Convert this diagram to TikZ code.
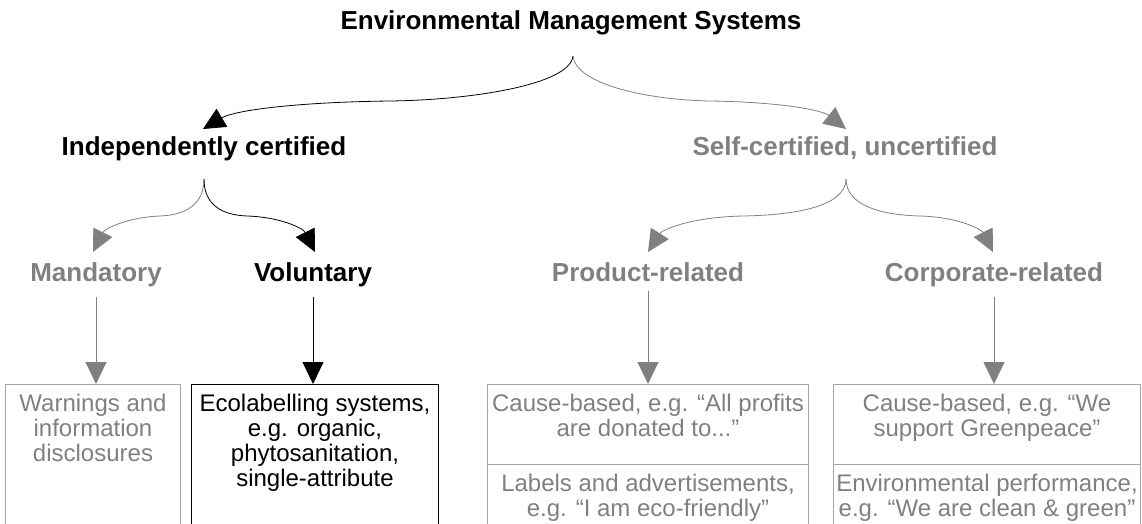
\documentclass[tikz,border=0pt]{standalone}
\usepackage{fontspec}
\setmainfont{Liberation Sans}
\usetikzlibrary{arrows.meta,calc}
\definecolor{softgray}{HTML}{808080}
\definecolor{edgegray}{HTML}{A6A6A6}
\begin{document}
\begin{tikzpicture}[x=1pt,y=-1pt,
  head/.style={font=\fontsize{26}{30}\selectfont\bfseries, inner sep=0pt, anchor=base},
  body/.style={font=\fontsize{24}{25}\selectfont, align=center, inner sep=0pt, anchor=north},
  frame/.style={draw, line width=1pt, anchor=north west, inner sep=0pt},
  tip/.style={-{Triangle[length=22pt,width=21pt]}, line width=0.8pt},
  dim/.style={draw=softgray, text=softgray},
]
\clip (0,0) rectangle (1142,523);

% headings
\node[head] (ems)  at (571,29)  {Environmental Management Systems};
\node[head] (ind)  at (204,155) {Independently certified};
\node[head, text=softgray] (self) at (845,155) {Self-certified, uncertified};
\node[head, text=softgray] (mand) at (96,281)  {Mandatory};
\node[head] (vol)  at (313,281) {Voluntary};
\node[head, text=softgray] (prod) at (648,281) {Product-related};
\node[head, text=softgray] (corp) at (994,281) {Corporate-related};

% branch points and arrow ends
\coordinate (emsfork)  at (573,56);
\coordinate (indfork)  at (204,179);
\coordinate (selffork) at (846,179);
\coordinate (indin)  at (203,129);
\coordinate (selfin) at (846,129);
\coordinate (mandin) at (93,252);
\coordinate (volin)  at (315,252);
\coordinate (prodin) at (648,252);
\coordinate (corpin) at (993,252);

% boxes
\node[frame, draw=edgegray, minimum width=175pt, minimum height=180pt] (warnbox) at (5,384) {};
\node[frame, draw=black, minimum width=247pt, minimum height=180pt] (ecobox) at (191,384) {};
\node[frame, draw=edgegray, minimum width=321pt, minimum height=80pt] (prodtop) at (487,384) {};
\node[frame, draw=edgegray, minimum width=321pt, minimum height=100pt] (prodbot) at (487,464) {};
\node[frame, draw=edgegray, minimum width=307pt, minimum height=80pt] (corptop) at (833,384) {};
\node[frame, draw=edgegray, minimum width=307pt, minimum height=100pt] (corpbot) at (833,464) {};

\node[body, text=softgray] (warn) at ($(warnbox.north)+(0,10)$) {Warnings and\\information\\disclosures};
\node[body] (eco) at ($(ecobox.north)+(0,10)$) {Ecolabelling systems,\\e.g. organic,\\phytosanitation,\\single-attribute};
\node[body, text=softgray] (cause1) at ($(prodtop.north)+(0,10)$) {Cause-based, e.g. “All profits\\are donated to...”};
\node[body, text=softgray] (labels) at ($(prodbot.north)+(0,10)$) {Labels and advertisements,\\e.g. “I am eco-friendly”};
\node[body, text=softgray] (cause2) at ($(corptop.north)+(0,10)$) {Cause-based, e.g. “We\\support Greenpeace”};
\node[body, text=softgray] (envperf) at ($(corpbot.north)+(0,10)$) {Environmental performance,\\e.g. “We are clean \& green”};

% curved branches
\draw[tip] (emsfork) .. controls (570,85) and (470,100) .. (390,101)
                      .. controls (300,102) and (235,110) .. (indin);
\draw[tip, dim] (emsfork) .. controls (576,85) and (650,100) .. (710,101)
                      .. controls (780,102) and (822,110) .. (selfin);
\draw[tip, dim] (indfork) .. controls (204,205) and (185,215) .. (160,216)
                      .. controls (130,217) and (105,228) .. (mandin);
\draw[tip] (indfork) .. controls (204,205) and (222,215) .. (247,216)
                      .. controls (280,217) and (303,228) .. (volin);
\draw[tip, dim] (selffork) .. controls (846,205) and (800,215) .. (743,216)
                      .. controls (690,217) and (662,230) .. (prodin);
\draw[tip, dim] (selffork) .. controls (846,205) and (880,215) .. (920,216)
                      .. controls (960,217) and (982,230) .. (corpin);

% straight drops into the boxes
\draw[tip, dim] ($(mand.south)+(0,10)$) -- (mand.south |- warnbox.north);
\draw[tip] ($(vol.south)+(0,10)$) -- (vol.south |- ecobox.north);
\draw[tip, dim] ($(prod.south)+(0,10)$) -- (prod.south |- prodtop.north);
\draw[tip, dim] ($(corp.south)+(0,10)$) -- (corp.south |- corptop.north);
\end{tikzpicture}
\end{document}
